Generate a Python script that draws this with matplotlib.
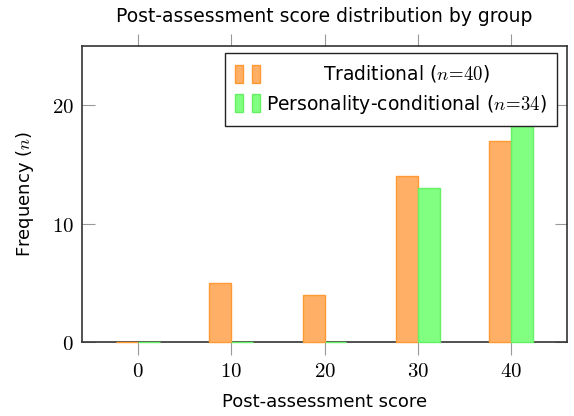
import numpy as np
import matplotlib.pyplot as plt
from matplotlib.patches import Patch
from matplotlib.legend_handler import HandlerTuple
from matplotlib.ticker import FuncFormatter

plt.rcParams['mathtext.fontset'] = 'cm'
plt.rcParams['font.family'] = 'DejaVu Sans'

scores = [0, 10, 20, 30, 40]
traditional = [0, 5, 4, 14, 17]
personality = [0, 0, 0, 13, 21]
labels = ['Traditional ($n\\!=\\!40$)', 'Personality-conditional ($n\\!=\\!34$)']

orange_fill, orange_edge = '#ffb066', '#ff9a33'
green_fill, green_edge = '#80ff80', '#66f066'

fig = plt.figure(figsize=(5.74, 4.16), dpi=100)
ax = fig.add_axes([0.1429, 0.1779, 0.845, 0.7115])

x = np.array(scores)
w = 2.35
ax.bar(x - w / 2, traditional, width=w, color=orange_fill, edgecolor=orange_edge,
       linewidth=1, zorder=3, clip_on=False)
ax.bar(x + w / 2, personality, width=w, color=green_fill, edgecolor=green_edge,
       linewidth=1, zorder=3, clip_on=False)

ax.set_xlim(-6, 46)
ax.set_ylim(0, 25)
ax.set_xticks(scores)
ax.set_yticks([0, 10, 20])
fmt = FuncFormatter(lambda v, p: f"${v:g}$")
ax.xaxis.set_major_formatter(fmt)
ax.yaxis.set_major_formatter(fmt)
ax.tick_params(axis='x', direction='out', top=True, length=9, width=0.8, color='#999999', labelsize=15, pad=5)
ax.tick_params(axis='y', direction='in', right=True, length=9, width=0.8, color='#999999', labelsize=15, pad=6)
for s in ax.spines.values():
    s.set_linewidth(1.2)
    s.set_color('#333333')

ax.set_xlabel('Post-assessment score', fontsize=13, labelpad=8)
ax.set_ylabel('Frequency ($n$)', fontsize=13, labelpad=11)
ax.set_title('Post-assessment score distribution by group', fontsize=13.5, pad=17)

h1 = (Patch(facecolor=orange_fill, edgecolor=orange_edge), Patch(facecolor=orange_fill, edgecolor=orange_edge))
h2 = (Patch(facecolor=green_fill, edgecolor=green_edge), Patch(facecolor=green_fill, edgecolor=green_edge))
leg = ax.legend([h1, h2], labels,
                handler_map={tuple: HandlerTuple(ndivide=None, pad=0.5)},
                loc='upper right', bbox_to_anchor=(0.979, 0.976), fontsize=13.5,
                handlelength=1.35, handleheight=1.1, handletextpad=0.3, labelspacing=0.45,
                borderpad=0.55, borderaxespad=0, fancybox=False, framealpha=1, edgecolor='#222222')
leg.get_frame().set_linewidth(1.0)
leg.set_zorder(5)

# centre the shorter legend label over the longer one
fig.canvas.draw()
r = fig.canvas.get_renderer()
tw = [t.get_window_extent(r).width for t in leg.get_texts()]
rows = leg._legend_handle_box.get_children()[0].get_children()
rows[0].sep += (max(tw) - tw[0]) / 2 * 72 / fig.dpi

fig.savefig('out.png', dpi=100)
